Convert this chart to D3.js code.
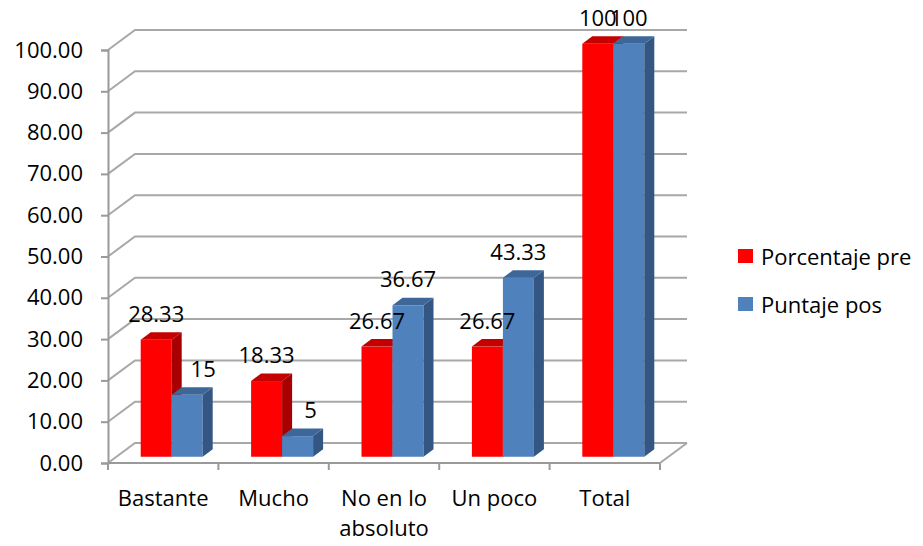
<!DOCTYPE html>
<html>
<head>
<meta charset="utf-8">
<script src="https://cdn.jsdelivr.net/npm/d3@7/dist/d3.min.js"></script>
<style>
  html, body { margin: 0; padding: 0; background: #ffffff; }
  svg { display: block; }
  text { font-family: "Open Sans", "Noto Sans", sans-serif; fill: #000; }
</style>
</head>
<body>
<script>
// Series and categories
const categories = ["Bastante", "Mucho", "No en lo absoluto", "Un poco", "Total"];
const seriesNames = ["Porcentaje pre", "Puntaje pos"];
const porcentajePre = [28.33, 18.33, 26.67, 26.67, 100];
const puntajePos = [15, 5, 36.67, 43.33, 100];
const yTicks = [0, 10, 20, 30, 40, 50, 60, 70, 80, 90, 100];

// Styling
const W = 923, H = 546;
const faceColors = [
  { front: "#ff0000", side: "#a80000", top: "#c40000" },
  { front: "#4f81bd", side: "#335782", top: "#3d6799" }
];
const gridColor = "#a8a8a8";
const fontSize = 22;
// small horizontal nudges applied to a few value labels
const labelShift = { "Puntaje pos": { "Bastante": 16, "Mucho": 13 } };

// 3D projection offsets
const floorDepth = { dx: 27, dy: -20 };   // wall/floor depth
const barPlane = { dx: 8.5, dy: -6.25 };  // front face of bars
const barDepth = { dx: 10, dy: -7.5 };    // thickness of a bar

const svg = d3.select("body").append("svg").attr("width", W).attr("height", H);

const x = d3.scaleBand().domain(categories).range([108, 660]).padding(0);
const y = d3.scaleLinear().domain([0, 100]).range([463, 50]);
const barW = 31;
const xs = d3.scaleBand().domain(seriesNames)
  .range([x.bandwidth() / 2 - barW, x.bandwidth() / 2 + barW]).padding(0);

const values = [porcentajePre, puntajePos];

// Back wall gridlines and left wall diagonals
const grid = svg.append("g");
grid.selectAll("path.grid").data(yTicks).join("path")
  .attr("class", "grid")
  .attr("fill", "none")
  .attr("stroke", gridColor)
  .attr("stroke-width", 2)
  .attr("d", v => {
    const y0 = y(v);
    return `M${x.range()[0]},${y0} L${x.range()[0] + floorDepth.dx},${y0 + floorDepth.dy} L${x.range()[1] + floorDepth.dx},${y0 + floorDepth.dy}`;
  });

// Floor right edge
grid.append("path")
  .attr("fill", "none").attr("stroke", gridColor).attr("stroke-width", 2)
  .attr("d", `M${x.range()[1]},${y(0)} L${x.range()[1] + floorDepth.dx},${y(0) + floorDepth.dy}`);

// Y axis
const yAxis = d3.axisLeft(y).tickValues(yTicks).tickFormat(d => d.toFixed(2))
  .tickSize(7).tickPadding(18);
const yg = svg.append("g").attr("transform", `translate(${x.range()[0]},0)`).call(yAxis);
yg.select(".domain").attr("stroke", "#9a9a9a").attr("stroke-width", 2);
yg.selectAll(".tick line").attr("stroke", "#9a9a9a").attr("stroke-width", 2);
yg.selectAll(".tick text").attr("font-size", fontSize).attr("font-family", "'Open Sans', sans-serif").attr("fill", "#000");

// X axis (front floor edge), ticks at category boundaries
const xg = svg.append("g").attr("transform", `translate(0,${y(0)})`);
xg.append("line").attr("x1", x.range()[0]).attr("x2", x.range()[1])
  .attr("y1", 0).attr("y2", 0).attr("stroke", "#9a9a9a").attr("stroke-width", 2);
const bounds = categories.map(c => x(c)).concat([x.range()[1]]);
xg.selectAll("line.tk").data(bounds).join("line").attr("class", "tk")
  .attr("x1", d => d).attr("x2", d => d).attr("y1", 0).attr("y2", 7)
  .attr("stroke", "#9a9a9a").attr("stroke-width", 2);

// Category labels, wrapped to the band width
const xLabelAxis = d3.axisBottom(x).tickSize(0).tickPadding(0);
const xl = svg.append("g").attr("transform", `translate(0,${y(0)})`).call(xLabelAxis);
xl.select(".domain").remove();
xl.selectAll(".tick text")
  .attr("font-size", fontSize).attr("font-family", "'Open Sans', sans-serif").attr("fill", "#000")
  .attr("dy", null).attr("y", 0)
  .each(function(d) {
    const t = d3.select(this);
    const words = d.split(" ");
    t.text(null);
    let line = [], lines = [];
    const probe = t.append("tspan");
    words.forEach(w => {
      line.push(w);
      probe.text(line.join(" "));
      if (probe.node().getComputedTextLength() > x.bandwidth() && line.length > 1) {
        line.pop();
        lines.push(line.join(" "));
        line = [w];
      }
    });
    lines.push(line.join(" "));
    probe.remove();
    lines.forEach((l, i) => {
      t.append("tspan").attr("x", 0).attr("y", 43 + i * 30).text(l);
    });
  });

// Bars as extruded boxes
const bars = svg.append("g");
categories.forEach((c, ci) => {
  seriesNames.forEach((s, si) => {
    const v = values[si][ci];
    const x0 = x(c) + xs(s) + barPlane.dx;
    const x1 = x0 + xs.bandwidth();
    const yb = y(0) + barPlane.dy;
    const yt = y(v) + barPlane.dy;
    const col = faceColors[si];
    const g = bars.append("g");
    g.append("rect").attr("x", x0).attr("y", yt).attr("width", x1 - x0).attr("height", yb - yt)
      .attr("fill", col.front);
    g.append("path").attr("fill", col.side)
      .attr("d", `M${x1},${yt} L${x1 + barDepth.dx},${yt + barDepth.dy} L${x1 + barDepth.dx},${yb + barDepth.dy} L${x1},${yb} Z`);
    g.append("path").attr("fill", col.top)
      .attr("d", `M${x0},${yt} L${x0 + barDepth.dx},${yt + barDepth.dy} L${x1 + barDepth.dx},${yt + barDepth.dy} L${x1},${yt} Z`);
  });
});

// Value labels above each bar
const labels = svg.append("g");
categories.forEach((c, ci) => {
  seriesNames.forEach((s, si) => {
    const v = values[si][ci];
    const shift = (labelShift[s] && labelShift[s][c]) || 0;
    labels.append("text")
      .attr("x", x(c) + xs(s) + barPlane.dx + xs.bandwidth() / 2 + shift)
      .attr("y", y(v) + barPlane.dy - 18)
      .attr("text-anchor", "middle")
      .attr("font-size", fontSize)
      .text(String(v));
  });
});

// Legend
const legend = svg.append("g").attr("transform", "translate(738,249)");
seriesNames.forEach((s, i) => {
  const g = legend.append("g").attr("transform", `translate(0,${i * 48})`);
  g.append("rect").attr("width", 15).attr("height", 14).attr("fill", faceColors[i].front);
  g.append("text").attr("x", 23).attr("y", 16).attr("font-size", fontSize).text(s);
});
</script>
</body>
</html>
